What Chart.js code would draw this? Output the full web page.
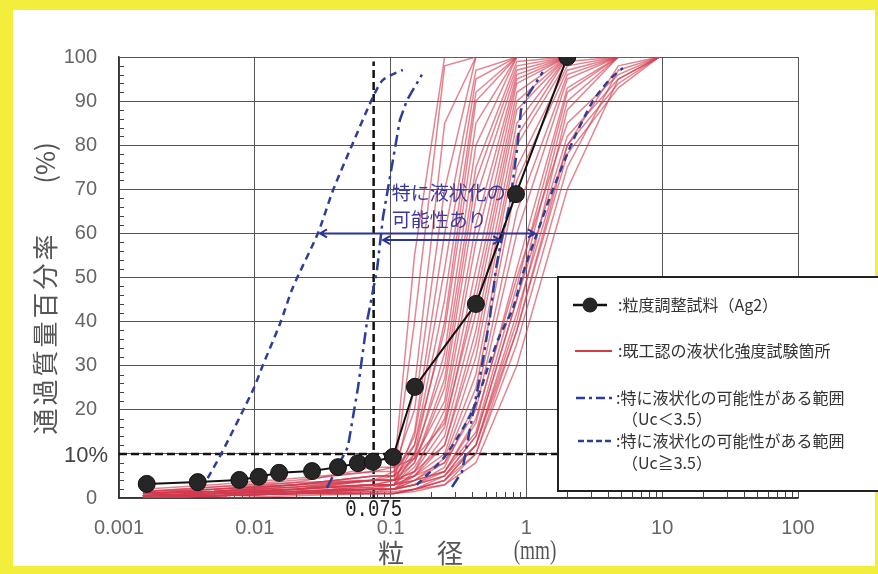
<!DOCTYPE html>
<html><head><meta charset="utf-8">
<script src="https://cdn.jsdelivr.net/npm/chart.js@4.4.0/dist/chart.umd.min.js"></script>
<style>
html,body{margin:0;padding:0;background:#f3ee3c;width:878px;height:574px;overflow:hidden}
#frame{position:absolute;left:13px;top:10px;width:862px;height:556px;background:#fff}
canvas{position:absolute;left:0;top:0}
</style></head><body><div id="frame"></div><canvas id="c" width="878" height="574"></canvas>
<script>
// ---------- data ----------
const xTicks = [0.001, 0.01, 0.1, 1, 10, 100];
const xTickLabels = ['0.001', '0.01', '0.1', '1', '10', '100'];
const yTicks = [0, 10, 20, 30, 40, 50, 60, 70, 80, 90, 100];

// 粒度調整試料(Ag2)
const ag2Size = [0.0016, 0.0038, 0.0077, 0.0107, 0.0151, 0.0264, 0.041, 0.0575, 0.074, 0.104, 0.151, 0.425, 0.838, 2.0];
const ag2Pass = [3.2, 3.6, 4.1, 4.8, 5.7, 6.1, 7.0, 7.9, 8.2, 9.3, 25.2, 44.0, 68.9, 100];

// 特に液状化の可能性がある範囲 (Uc<3.5) : dash-dot
const ucLowLeftSize = [0.034, 0.0485, 0.0575, 0.067, 0.0794, 0.0879, 0.104, 0.117, 0.132, 0.170];
const ucLowLeftPass = [2.3, 11.6, 25, 40, 51.7, 63.7, 76.6, 85.7, 90.2, 96];
const ucLowRightSize = [0.283, 0.336, 0.397, 0.471, 0.539, 0.597, 0.640, 0.757, 0.853, 0.912, 1.01, 1.32];
const ucLowRightPass = [2.5, 6, 18, 30, 41, 52, 57, 67, 79, 88, 91, 96.6];

// 特に液状化の可能性がある範囲 (Uc≧3.5) : dashed
const ucHighLeftSize = [0.0045, 0.0057, 0.0097, 0.0115, 0.0154, 0.0191, 0.0292, 0.0377, 0.0528, 0.0741, 0.0879, 0.123];
const ucHighLeftPass = [4.5, 10.2, 24.5, 30.2, 39.7, 47.8, 60.1, 69.8, 80.5, 90.9, 94.8, 97.1];
const ucHighRightSize = [0.156, 0.252, 0.405, 0.539, 0.640, 0.796, 0.944, 1.197, 1.57, 2.20, 3.09, 4.13, 5.14];
const ucHighRightPass = [3, 9.5, 20, 31, 37, 43, 51, 60, 70, 81, 90, 95, 97.5];

// 既工認の液状化強度試験箇所 (sieve sizes, mm) and passing %
const redSizes = [0.0015, 0.005, 0.02, 0.075, 0.106, 0.15, 0.25, 0.425, 0.85, 2, 4.75, 9.5];
const red01 = [0.5, 1, 2, 4, 6, 55, 100, 100, 100, 100, 100, 100];
const red02 = [1, 1.5, 3, 5, 5, 40, 98, 100];
const red03 = [0, 0.5, 1, 3, 4, 25, 85, 100];
const red04 = [1.5, 2, 3.5, 7, 7, 20, 70, 100];
const red05 = [0.5, 1, 1.5, 2.5, 3, 15, 60, 97, 100];
const red06 = [1, 1.5, 3, 5, 5, 14, 52, 95, 100];
const red07 = [0.5, 1, 2, 4, 4, 12, 45, 92, 100];
const red08 = [0, 0.5, 1, 2, 3, 10, 40, 90, 100];
const red09 = [1.5, 2.5, 4, 6, 6, 12, 38, 85, 100];
const red10 = [0.5, 1, 2, 3, 4, 9, 33, 80, 100];
const red11 = [1, 1.5, 2.5, 4, 5, 10, 30, 75, 99, 100];
const red12 = [0.5, 0.5, 1.5, 2.5, 3, 8, 27, 72, 98, 100];
const red13 = [1, 2, 3, 4, 4, 8, 25, 68, 97, 100];
const red14 = [1.5, 2, 3, 5, 5, 9, 22, 62, 96, 100, 100, 100];
const red15 = [0, 0.5, 1, 2, 2, 6, 20, 58, 95, 100];
const red16 = [0.5, 1, 2, 3, 3, 7, 18, 52, 94, 100];
const red17 = [1, 1.5, 2.5, 4, 4, 6, 16, 48, 92, 100];
const red18 = [2, 3, 4.5, 6, 7, 9, 17, 45, 90, 100];
const red19 = [0.5, 0.5, 1, 1.5, 2, 5, 14, 42, 88, 100];
const red20 = [1, 1.5, 2, 3, 3, 5, 12, 38, 85, 100];
const red21 = [1, 2, 3, 4, 4, 6, 12, 35, 82, 100];
const red22 = [0.5, 1, 2, 3, 3, 5, 10, 32, 80, 99, 100];
const red23 = [0, 0.5, 1, 2, 2, 4, 9, 28, 75, 98, 100];
const red24 = [1, 1.5, 2, 3, 3, 4, 8, 25, 72, 97, 100];
const red25 = [0.5, 1, 1.5, 2, 2, 3, 7, 22, 65, 96, 100];
const red26 = [1.5, 2.5, 3.5, 4, 4, 5, 8, 20, 60, 95, 100];
const red27 = [0.5, 1, 1.5, 2, 2, 4, 6, 17, 52, 93, 100];
const red28 = [1, 1.5, 2.5, 3, 3, 4, 6, 15, 48, 92, 100, 100];
const red29 = [0.5, 1, 1.5, 2, 2, 3, 5, 14, 45, 90, 100];
const red30 = [0, 0.5, 1, 1, 1, 2, 4, 12, 40, 88, 100];
const red31 = [0.5, 1, 1.5, 2, 2, 3, 5, 12, 38, 80, 98, 100];
const red32 = [0, 0.5, 1, 1, 1, 2, 4, 10, 35, 75, 97, 100];
const red33 = [0.5, 0.5, 1, 1.5, 1.5, 2, 3, 8, 30, 70, 95, 100];
const red34 = [0.5, 1, 1.5, 2, 2, 3, 6, 18, 50, 85, 96, 100];
const red35 = [0, 0.5, 1, 1, 1, 2, 5, 14, 45, 82, 95, 100];
const red36 = [0.5, 0.5, 1, 1, 1, 2, 4, 12, 42, 80, 94, 100];
const red37 = [0, 0, 0.5, 1, 1, 1.5, 3, 10, 38, 78, 93, 100];
const redCurves = [red01, red02, red03, red04, red05, red06, red07, red08, red09, red10,
  red11, red12, red13, red14, red15, red16, red17, red18, red19, red20,
  red21, red22, red23, red24, red25, red26, red27, red28, red29, red30,
  red31, red32, red33, red34, red35, red36, red37];

// annotations
const fineLimitSize = 0.075;      // vertical dashed line
const fineLimitPass = 10;         // horizontal dashed line
const arrowUcHigh = [0.0302, 1.156, 60];   // from, to, level
const arrowUcLow = [0.088, 0.64, 58.5];
const noteLines = ['特に液状化の', '可能性あり'];
const notePos = [0.102, 69.2, 63.0];
const legendLabels = [':粒度調整試料（Ag2）', ':既工認の液状化強度試験箇所', ':特に液状化の可能性がある範囲', '（Uc＜3.5）', ':特に液状化の可能性がある範囲', '（Uc≧3.5）'];

// ---------- build ----------
const pts = (xs, ys) => xs.map((x, i) => ({ x, y: ys[i] })).filter(p => p.y != null);
const BLUE = '#2c3f95';
const datasets = [];
datasets.push({ data: pts(ag2Size, ag2Pass), borderColor: '#111', borderWidth: 2, pointRadius: 8.5,
  pointBackgroundColor: '#262626', pointBorderColor: '#111', pointBorderWidth: 1, order: 0 });
datasets.push({ data: pts(ucLowLeftSize, ucLowLeftPass), borderColor: BLUE, borderWidth: 2.5, borderDash: [12, 5, 3, 5], order: 1 });
datasets.push({ data: pts(ucLowRightSize, ucLowRightPass), borderColor: BLUE, borderWidth: 2.5, borderDash: [12, 5, 3, 5], order: 1 });
datasets.push({ data: pts(ucHighLeftSize, ucHighLeftPass), borderColor: BLUE, borderWidth: 2.5, borderDash: [7, 5], tension: 0.25, order: 1 });
datasets.push({ data: pts(ucHighRightSize, ucHighRightPass), borderColor: BLUE, borderWidth: 2.5, borderDash: [7, 5], tension: 0.25, order: 1 });
redCurves.forEach(c => datasets.push({ data: pts(redSizes, c), borderColor: 'rgba(210,58,78,0.62)', borderWidth: 1.5, order: 2 }));

const CJK = '"Noto Sans CJK JP", sans-serif';
const SANS = '"Liberation Sans", Arial, sans-serif';

const overlay = {
  id: 'overlay',
  beforeDatasetsDraw(chart) {
    const ctx = chart.ctx, a = chart.chartArea, X = chart.scales.x, Y = chart.scales.y;
    ctx.save();
    ctx.strokeStyle = '#444'; ctx.lineWidth = 1;
    ctx.beginPath();
    for (let i = 0; i < xTicks.length - 1; i++) {
      for (let k = 2; k <= 9; k++) {
        const px = Math.round(X.getPixelForValue(k * xTicks[i])) + 0.5;
        ctx.moveTo(px, a.bottom); ctx.lineTo(px, a.bottom - 6);
      }
    }
    for (let v = 2; v < 100; v += 2) {
      if (v % 10 === 0) continue;
      const py = Math.round(Y.getPixelForValue(v)) + 0.5;
      ctx.moveTo(a.left, py); ctx.lineTo(a.left + 5, py);
    }
    ctx.stroke();
    ctx.strokeStyle = '#111'; ctx.lineWidth = 2.5; ctx.setLineDash([8, 4]);
    ctx.beginPath();
    const vx = X.getPixelForValue(fineLimitSize);
    ctx.moveTo(vx, a.bottom); ctx.lineTo(vx, Y.getPixelForValue(99));
    const hy = Y.getPixelForValue(fineLimitPass);
    ctx.moveTo(a.left, hy); ctx.lineTo(a.right, hy);
    ctx.stroke();
    ctx.restore();
  },
  afterDatasetsDraw(chart) {
    const ctx = chart.ctx, a = chart.chartArea, X = chart.scales.x, Y = chart.scales.y;
    ctx.save();
    ctx.strokeStyle = '#2a3595'; ctx.lineWidth = 2;
    for (const ar of [arrowUcHigh, arrowUcLow]) {
      const x1 = X.getPixelForValue(ar[0]), x2 = X.getPixelForValue(ar[1]), y = Y.getPixelForValue(ar[2]);
      ctx.beginPath();
      ctx.moveTo(x1, y); ctx.lineTo(x2, y);
      ctx.moveTo(x1 + 7, y - 4); ctx.lineTo(x1, y); ctx.lineTo(x1 + 7, y + 4);
      ctx.moveTo(x2 - 7, y - 4); ctx.lineTo(x2, y); ctx.lineTo(x2 - 7, y + 4);
      ctx.stroke();
    }
    ctx.fillStyle = '#3b3a9c'; ctx.font = '19px ' + CJK; ctx.textBaseline = 'middle'; ctx.textAlign = 'left';
    const nx = X.getPixelForValue(notePos[0]);
    ctx.fillText(noteLines[0], nx, Y.getPixelForValue(notePos[1]));
    ctx.fillText(noteLines[1], nx, Y.getPixelForValue(notePos[2]));
    ctx.restore();
  },
  afterDraw(chart) {
    const ctx = chart.ctx, a = chart.chartArea, X = chart.scales.x, Y = chart.scales.y;
    ctx.save();
    ctx.save();
    ctx.fillStyle = '#222'; ctx.font = '19px "Liberation Mono", monospace';
    ctx.textAlign = 'center'; ctx.textBaseline = 'middle';
    ctx.translate(X.getPixelForValue(fineLimitSize), a.bottom + 11);
    ctx.scale(1, 1.3);
    ctx.fillText('0.075', 0, 0);
    ctx.restore();
    ctx.fillStyle = '#444'; ctx.font = '22px ' + SANS; ctx.textAlign = 'right'; ctx.textBaseline = 'middle';
    ctx.fillText('10%', a.left - 11, Y.getPixelForValue(fineLimitPass) + 2);
    ctx.save();
    ctx.fillStyle = '#555'; ctx.font = '26px ' + CJK; ctx.textAlign = 'center'; ctx.textBaseline = 'middle';
    ctx.translate(45, 333); ctx.rotate(-Math.PI / 2);
    ctx.letterSpacing = '3px';
    ctx.fillText('通過質量百分率', 0, 0);
    ctx.letterSpacing = '0px';
    ctx.fillText('(%)', 170, 0);
    ctx.restore();
    ctx.fillStyle = '#555'; ctx.font = '26px ' + CJK; ctx.textAlign = 'center'; ctx.textBaseline = 'middle';
    ctx.fillText('粒', 391, 553);
    ctx.fillText('径', 450, 553);
    ctx.save();
    ctx.font = '24px "Liberation Serif", serif';
    ctx.translate(535, 552); ctx.scale(0.8, 1.1);
    ctx.fillText('(mm)', 0, 0);
    ctx.restore();
    // legend
    const L = 558, T = 277, W = 322, H = 214;
    ctx.fillStyle = '#fff'; ctx.fillRect(L, T, W, H);
    ctx.strokeStyle = '#222'; ctx.lineWidth = 2; ctx.strokeRect(L, T, W, H);
    ctx.lineWidth = 2.5;
    ctx.strokeStyle = '#111'; ctx.beginPath(); ctx.moveTo(573, 305); ctx.lineTo(607, 305); ctx.stroke();
    ctx.fillStyle = '#262626'; ctx.beginPath(); ctx.arc(590, 305, 7.5, 0, Math.PI * 2); ctx.fill();
    ctx.strokeStyle = '#d83a48'; ctx.lineWidth = 2; ctx.beginPath(); ctx.moveTo(575, 351); ctx.lineTo(612, 351); ctx.stroke();
    ctx.strokeStyle = BLUE; ctx.lineWidth = 2.5; ctx.setLineDash([9, 4, 3, 4]);
    ctx.beginPath(); ctx.moveTo(576, 398); ctx.lineTo(612, 398); ctx.stroke();
    ctx.setLineDash([6, 3]);
    ctx.beginPath(); ctx.moveTo(578, 441); ctx.lineTo(612, 441); ctx.stroke();
    ctx.setLineDash([]);
    ctx.fillStyle = '#333'; ctx.font = '16px ' + CJK; ctx.textAlign = 'left'; ctx.textBaseline = 'middle';
    ctx.fillText(legendLabels[0], 618, 305);
    ctx.fillText(legendLabels[1], 618, 351);
    ctx.fillText(legendLabels[2], 616, 398);
    ctx.fillText(legendLabels[3], 622, 419);
    ctx.fillText(legendLabels[4], 616, 441);
    ctx.fillText(legendLabels[5], 622, 463);
    ctx.restore();
  }
};

new Chart(document.getElementById('c'), {
  type: 'line',
  data: { datasets },
  options: {
    responsive: false, animation: false, devicePixelRatio: 1,
    layout: { padding: { left: 0, top: 57, right: 80, bottom: 0 } },
    plugins: { legend: { display: false }, tooltip: { enabled: false } },
    elements: { line: { tension: 0, fill: false }, point: { radius: 0 } },
    scales: {
      x: {
        type: 'logarithmic', min: 0.001, max: 100,
        afterBuildTicks: s => { s.ticks = xTicks.map(v => ({ value: v })); },
        afterFit: s => { s.height = 76; },
        ticks: { callback: v => { const i = xTicks.indexOf(v); return i >= 0 ? xTickLabels[i] : ''; },
          color: '#666', font: { family: SANS, size: 20 }, padding: 18, maxRotation: 0, autoSkip: false },
        grid: { color: '#555', lineWidth: 1, drawTicks: false },
        border: { color: '#333', width: 1.5 }
      },
      y: {
        type: 'linear', min: 0, max: 100,
        afterBuildTicks: s => { s.ticks = yTicks.map(v => ({ value: v })); },
        afterFit: s => { s.width = 119; },
        ticks: { callback: v => (v === fineLimitPass ? '' : String(v)), color: '#666', font: { family: SANS, size: 20 }, padding: 22 },
        grid: { color: '#555', lineWidth: 1, drawTicks: false },
        border: { color: '#333', width: 1.5 }
      }
    }
  },
  plugins: [overlay]
});
</script></body></html>
